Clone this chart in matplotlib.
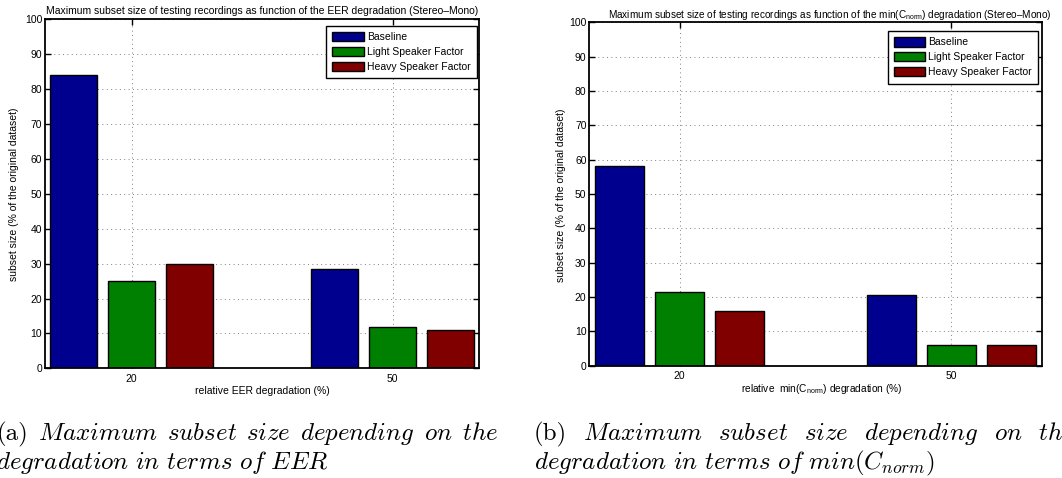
import matplotlib
matplotlib.use('Agg')
import matplotlib.pyplot as plt
import numpy as np

# ---- data ----
groups = ['20', '50']
series_names = ['Baseline', 'Light Speaker Factor', 'Heavy Speaker Factor']
eer_baseline = [84.0, 28.5]
eer_light = [25.0, 11.7]
eer_heavy = [29.9, 11.0]
cn_baseline = [58.1, 20.6]
cn_light = [21.4, 5.9]
cn_heavy = [15.9, 5.9]
colors = ['#00008F', '#008000', '#800000']
yticks = list(range(0, 101, 10))

title_a = 'Maximum subset size of testing recordings as function of the EER degradation (Stereo\u2013Mono)'
title_b = ('Maximum subset size of testing recordings as function of the min(C$_{\\mathrm{norm}}$) '
           'degradation (Stereo\u2013Mono)')
xlabel_a = 'relative EER degradation (%)'
xlabel_b = 'relative  min(C$_{\\mathrm{norm}}$) degradation (%)'
ylabel = 'subset size (% of the original dataset)'
caption_a_words = ['(a)', '$Maximum$', '$subset$', '$size$', '$depending$', '$on$', '$the$']
caption_a_line2 = r'$degradation\ in\ terms\ of\ EER$'
caption_b_words = ['(b)', '$Maximum$', '$subset$', '$size$', '$depending$', '$on$', '$the$']
caption_b_line2 = r'$degradation\ in\ terms\ of\ min(C_{norm})$'

W, H = 1062, 478
plt.rcParams['font.family'] = ['Liberation Sans', 'DejaVu Sans']
plt.rcParams['mathtext.fontset'] = 'custom'
plt.rcParams['mathtext.rm'] = 'Liberation Sans'
plt.rcParams['mathtext.it'] = 'Liberation Sans:italic'

fig = plt.figure(figsize=(W / 100, H / 100), dpi=100)


def rect(l, t, r, b):
    return [l / W, 1 - b / H, (r - l) / W, (b - t) / H]


def fx(x):
    return x / W


def fy(y):
    return 1 - y / H


def draw(ax, data, leg_anchor):
    x = np.arange(1, len(groups) + 1)
    offs = [-0.222, 0.0, 0.222]
    for i, (vals, name) in enumerate(zip(data, series_names)):
        ax.bar(x + offs[i], vals, width=0.18, color=colors[i], edgecolor='black',
               linewidth=1.0, label=name, zorder=2)
    ax.set_xlim(0.668, 2.332)
    ax.set_ylim(0, 100)
    ax.set_yticks(yticks)
    ax.set_xticks(x)
    ax.set_xticklabels(groups)
    ax.tick_params(direction='in', length=4, width=1, top=True, right=True,
                   labelsize=7.5, colors='black')
    ax.tick_params(axis='y', pad=2)
    ax.tick_params(axis='x', pad=4)
    ax.grid(True, linestyle=(0, (1, 3.5)), color='#808080', linewidth=0.7)
    ax.set_axisbelow(True)
    for s in ax.spines.values():
        s.set_linewidth(1.3)
    leg = ax.legend(loc='upper right', bbox_to_anchor=leg_anchor, borderaxespad=0,
                    fontsize=7.5, frameon=True, fancybox=False, edgecolor='black',
                    framealpha=1, handlelength=3.0, handleheight=1.0,
                    handletextpad=0.3, labelspacing=0.45, borderpad=0.6)
    leg.get_frame().set_linewidth(1.0)


ax1 = fig.add_axes(rect(45, 19.4, 479.3, 368.3))
draw(ax1, [eer_baseline, eer_light, eer_heavy], (0.994, 0.982))
ax2 = fig.add_axes(rect(589.3, 22.4, 1041.7, 365.7))
draw(ax2, [cn_baseline, cn_light, cn_heavy], (0.992, 0.975))

# titles and labels
fig.text(fx(262), fy(13.5), title_a, ha='center', va='baseline', fontsize=7.5)
fig.text(fx(829.5), fy(18.5), title_b, ha='center', va='baseline', fontsize=7.2)
fig.text(fx(262), fy(394.5), xlabel_a, ha='center', va='baseline', fontsize=7.5)
fig.text(fx(821.3), fy(392), xlabel_b, ha='center', va='baseline', fontsize=7.3)
fig.text(fx(14), fy(194), ylabel, ha='center', va='center', rotation=90, fontsize=7.5)
fig.text(fx(560.7), fy(195.5), ylabel, ha='center', va='center', rotation=90, fontsize=7.5)

# captions (justified first lines, like the typeset originals)
cap_kw = dict(fontsize=18.0, fontfamily='cmr10', math_fontfamily='cm', va='baseline', ha='left')
renderer = fig.canvas.get_renderer()


def justify(words, y, start_x, last_word_end, last_visible=None):
    texts = [fig.text(0, fy(y), w, **cap_kw) for w in words]
    widths = [t.get_window_extent(renderer).width for t in texts]
    if last_visible is not None:
        tmp = fig.text(0, 0, last_visible, **cap_kw)
        lw = tmp.get_window_extent(renderer).width
        tmp.remove()
    else:
        lw = widths[-1]
    last_x = last_word_end - lw
    gap = (last_x - start_x - sum(widths[:-1])) / (len(widths) - 1)
    cur = start_x
    for t, wd in zip(texts, widths):
        t.set_x(fx(cur))
        cur += wd + gap


justify(caption_a_words, 440, -3.0, 498.0)
fig.text(fx(-4), fy(469), caption_a_line2, **cap_kw)
justify(caption_b_words, 440, 534.0, 1063.0, '$th$')
fig.text(fx(534), fy(469), caption_b_line2, **cap_kw)

fig.savefig('out.png', dpi=100)
